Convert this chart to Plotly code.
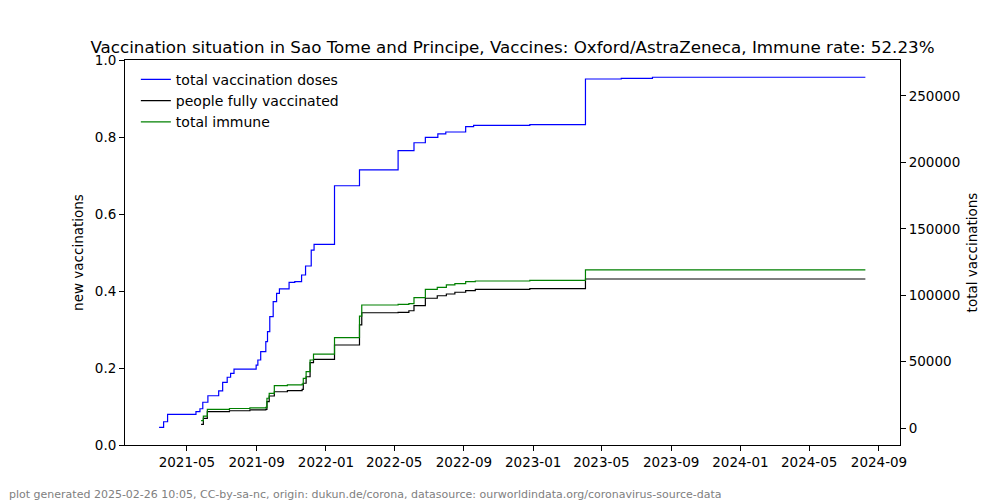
import plotly.graph_objects as go

# --- data ---
dose_dates = ["2021-03-13", "2021-03-21", "2021-03-28", "2021-05-17", "2021-05-24", "2021-05-29",
              "2021-06-07", "2021-06-26", "2021-07-03", "2021-07-11", "2021-07-17", "2021-07-23",
              "2021-08-31", "2021-09-03", "2021-09-08", "2021-09-17", "2021-09-20", "2021-09-24",
              "2021-09-30", "2021-10-06", "2021-10-11", "2021-10-28", "2021-11-07", "2021-11-19",
              "2021-11-26", "2021-12-06", "2021-12-11", "2022-01-16", "2022-03-01", "2022-05-08",
              "2022-06-05", "2022-06-25", "2022-07-17", "2022-07-31", "2022-09-04", "2022-09-18",
              "2022-12-26", "2023-04-03", "2023-06-05", "2023-07-30", "2024-08-08"]
dose_values = [500, 4700, 10300, 12300, 14500, 19400,
               24300, 27900, 34400, 38200, 41200, 44400,
               47400, 51200, 57500, 65000, 72500, 83800,
               95100, 101400, 104700, 109700, 110200, 115200,
               122000, 134000, 138300, 182400, 194300, 208800,
               214800, 218900, 221400, 222900, 226900, 227900,
               228400, 262800, 263300, 264100, 264100]

full_dates = ["2021-05-26", "2021-05-30", "2021-06-06", "2021-07-15", "2021-08-20", "2021-09-17",
              "2021-09-19", "2021-09-23", "2021-10-02", "2021-10-25", "2021-11-20", "2021-11-22",
              "2021-11-27", "2021-12-04", "2021-12-10", "2022-01-16", "2022-03-01", "2022-03-05",
              "2022-05-08", "2022-05-27", "2022-06-05", "2022-06-25", "2022-07-16", "2022-08-01",
              "2022-08-16", "2022-09-04", "2022-09-21", "2022-12-26", "2023-04-03", "2024-08-08"]
full_values = [2800, 7300, 12300, 13000, 13600, 14100,
               19800, 24100, 27300, 28200, 29100, 33700,
               38600, 49200, 51700, 62500, 77600, 86800,
               87100, 88300, 92100, 97700, 99600, 100900,
               102200, 103400, 104400, 104900, 112200, 112200]

immune_values = [5500, 9000, 14100, 14700, 15200, 15600,
                 22400, 26100, 31900, 32500, 33100, 37400,
                 42400, 51200, 55700, 68000, 84300, 92600,
                 93100, 93600, 98100, 104400, 105900, 107700,
                 108700, 110200, 110700, 111200, 119000, 119000]

x_tick_vals = ["2021-05-01", "2021-09-01", "2022-01-01", "2022-05-01", "2022-09-01", "2023-01-01",
               "2023-05-01", "2023-09-01", "2024-01-01", "2024-05-01", "2024-09-01"]
left_ticks = [0.0, 0.2, 0.4, 0.6, 0.8, 1.0]
right_ticks = [0, 50000, 100000, 150000, 200000, 250000]

title_text = ("Vaccination situation in Sao Tome and Principe, Vaccines: Oxford/AstraZeneca, "
              "Immune rate: 52.23%")
footer_text = ("plot generated 2025-02-26 10:05, CC-by-sa-nc, origin: dukun.de/corona, "
               "datasource: ourworldindata.org/coronavirus-source-data")

FONT = "DejaVu Sans"

# the page body has an 8px margin, so the figure is drawn 8px smaller
W, H = 992, 492
ML, MR, MT = 117, 100, 52
PW, PH = 775, 385
MB = H - MT - PH

fig = go.Figure()
# empty trace so that the left axis exists
fig.add_trace(go.Scatter(x=[], y=[], yaxis="y", showlegend=False, hoverinfo="skip"))
fig.add_trace(go.Scatter(x=dose_dates, y=dose_values, mode="lines", line_shape="hv",
                         line=dict(color="#0000ff", width=1.2), name="total vaccination doses",
                         yaxis="y2"))
fig.add_trace(go.Scatter(x=full_dates, y=full_values, mode="lines", line_shape="hv",
                         line=dict(color="#000000", width=1.2), name="people fully vaccinated",
                         yaxis="y2"))
fig.add_trace(go.Scatter(x=full_dates, y=immune_values, mode="lines", line_shape="hv",
                         line=dict(color="#008000", width=1.2), name="total immune",
                         yaxis="y2"))

axis_common = dict(showgrid=False, zeroline=False, showline=True, linecolor="black", linewidth=1,
                   ticks="outside", ticklen=5, tickcolor="black",
                   tickfont=dict(family=FONT, size=13.5, color="black"))

fig.update_layout(
    width=W, height=H,
    margin=dict(l=ML, r=MR, t=MT, b=MB, pad=0),
    paper_bgcolor="white", plot_bgcolor="white",
    font=dict(family=FONT, color="black"),
    title=dict(text=title_text, x=0.5, xref="paper", xanchor="center",
               y=1 - 39 / H, yref="container", yanchor="middle",
               font=dict(family=FONT, size=16.7, color="black")),
    xaxis=dict(**axis_common, mirror=True, type="date",
               range=["2021-01-12", "2024-10-08"],
               tickvals=x_tick_vals, tickformat="%Y-%m"),
    yaxis=dict(**axis_common, range=[0, 1], tickvals=left_ticks, tickformat=".1f",
               title=dict(text="new vaccinations", font=dict(family=FONT, size=13.5), standoff=8)),
    yaxis2=dict(**axis_common, overlaying="y", side="right", range=[-12800, 277100],
                tickvals=right_ticks, tickformat="d",
                title=dict(text="total vaccinations", font=dict(family=FONT, size=13.5), standoff=8)),
    legend=dict(x=0.014, y=0.99, xanchor="left", yanchor="top", bgcolor="rgba(0,0,0,0)",
                font=dict(family=FONT, size=14), tracegroupgap=0, itemwidth=30),
    showlegend=True,
    annotations=[dict(text=footer_text, xref="paper", yref="paper", x=-ML / PW, y=-49 / PH,
                      xanchor="left", yanchor="middle", showarrow=False, borderpad=0,
                      font=dict(family=FONT, size=11, color="#808080"))],
)

fig.write_html("out.html")
